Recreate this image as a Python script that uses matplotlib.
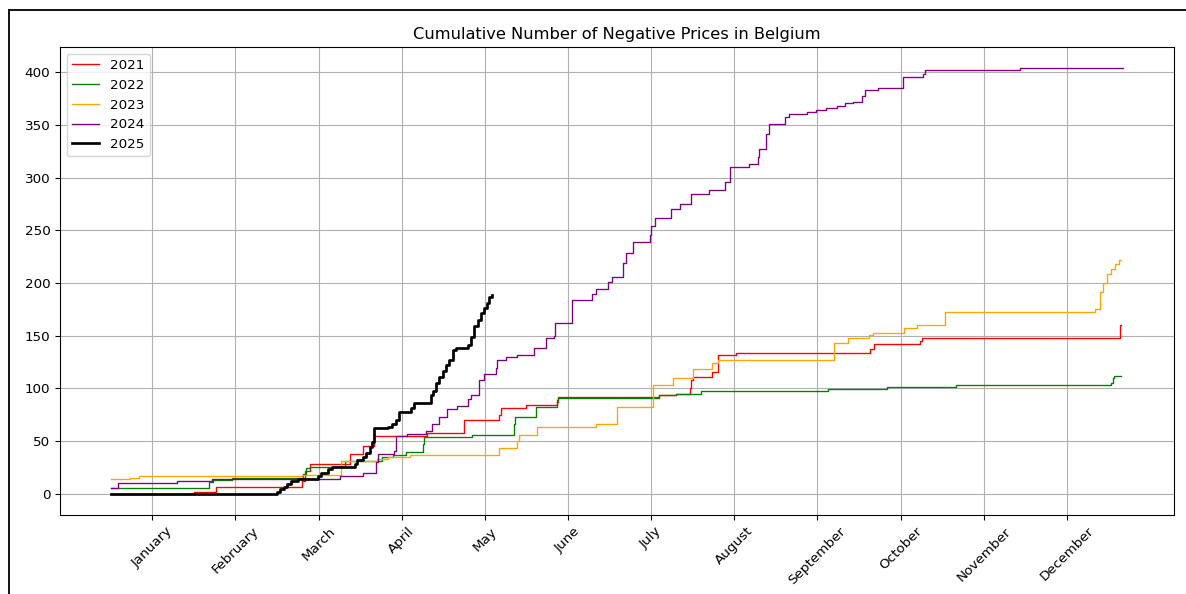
"""
Cumulative number of negative prices in Belgium, per year
"""

import numpy as np
import matplotlib
matplotlib.use('Agg')
import matplotlib.pyplot as plt
from matplotlib.lines import Line2D

# ================= data (day of year, cumulative count) =================
days_2021 = [0, 30, 38, 69, 70, 72, 86.3, 91, 95.2, 114, 127.5, 140, 141, 149.7,
             161, 161.5, 198, 204, 209, 209.5, 210, 217, 219, 225.6, 274,
             275.3, 292, 292.6, 364.2, 364.5]
vals_2021 = [0, 2, 6, 12, 22, 28, 38, 45, 55, 58, 70, 75, 81, 84,
             87, 92, 94, 95, 100, 108, 111, 116, 132, 134, 137,
             142, 145, 148, 160, 160]

days_2022 = [0, 35.4, 37, 43.8, 69.5, 70.5, 72, 84.5, 98, 102, 106.6, 112.6,
             113, 130.5, 145.5, 146, 153.3, 161, 161.5, 198, 204, 213, 259,
             280, 305, 361, 361.5, 362, 364.5]
vals_2022 = [5, 11, 13, 15, 19, 24, 25, 31, 35, 37, 40, 47,
             54, 56, 66, 73, 82, 89, 91, 93.6, 95, 97.5, 99,
             101.5, 103, 105, 110, 112, 112]

days_2023 = [0, 7, 10.3, 69, 83, 96, 100, 108, 140, 146.7, 147.5, 154, 175,
             182.6, 195.7, 203, 210, 217, 219, 261, 266, 273.5, 275, 286.4,
             291, 301, 355, 357, 358, 359.5, 361, 362.5, 364, 364.5]
vals_2023 = [14, 15, 17, 18, 31.5, 33, 35, 37, 43, 50, 56, 63, 66,
             82, 103, 110, 118, 124, 127, 143, 148, 151, 152.5, 157,
             160, 173, 175, 192, 200, 209, 213, 218, 222, 222]

days_2024 = [0, 2.5, 24, 36.6, 82.7, 91, 95.8, 96.5, 102.4, 103, 107, 113.8,
             116, 118.6, 121.5, 125, 129, 130, 133, 134.7, 139, 139.5, 142.5,
             146.7, 152.7, 157, 160, 160.4, 166.4, 173.6, 175, 179.6, 181, 185,
             186, 188.6, 194.5, 195, 196.5, 202.3, 205.3, 209.5, 216, 221.5,
             223.3, 230.4, 233.4, 234, 236.4, 237.6, 243.4, 244.8, 251.4,
             254.4, 258, 262, 265, 268, 271, 272, 277, 286, 293, 294, 328,
             365.4]
vals_2024 = [5, 10, 12, 14, 16.5, 20, 30, 38, 41, 55, 57, 60,
             66, 73, 80, 83, 90, 94, 108, 114, 119, 127, 130,
             132, 138, 148, 150, 162, 184, 190, 194, 201, 206, 219,
             229, 239, 246, 254, 262, 270, 275, 285, 288.6, 295.6,
             310, 313, 319.5, 327.5, 342, 351, 358, 361, 362.5,
             364, 366, 368, 371, 372, 378, 383, 385, 396, 399, 402, 404,
             404]

days_2025 = [0, 60, 61, 62.5, 63.5, 65, 67.7, 74.9, 76, 78.5, 80, 88, 89, 91,
             92, 93.5, 94.3, 95.2, 100, 101.5, 103, 104, 108.4, 109.6, 115.6,
             116.2, 117.4, 118.6, 119.8, 121, 122.2, 123.4, 124.6, 128.8, 130,
             131.2, 132.4, 133.6, 134.7, 135.9, 136.5, 137.7]
vals_2025 = [0, 2, 4.5, 6.7, 9, 12, 14, 17, 20, 23.5, 25, 28, 32, 35,
             39, 44, 49, 62, 63, 66.5, 70, 78, 81, 86, 93.6,
             98, 105, 111, 117, 122, 127, 136.5, 138, 141, 149,
             159, 165, 171.5, 176, 181, 187, 189]

years = ['2021', '2022', '2023', '2024', '2025']
colors = ['red', 'green', 'orange', 'purple', 'black']

month_names = ['January', 'February', 'March', 'April', 'May', 'June', 'July',
               'August', 'September', 'October', 'November', 'December']

# ================= style =================
plt.rcParams.update({
    'font.family': 'DejaVu Sans',
    'axes.titlesize': 11.7,
    'xtick.labelsize': 9.7,
    'ytick.labelsize': 9.7,
    'legend.fontsize': 9.7,
    'axes.linewidth': 0.78,
    'xtick.major.width': 0.78,
    'ytick.major.width': 0.78,
    'xtick.major.size': 3.4,
    'ytick.major.size': 3.4,
    'grid.linewidth': 0.78,
})


def main():
    series = [
        (days_2021, vals_2021),
        (days_2022, vals_2022),
        (days_2023, vals_2023),
        (days_2024, vals_2024),
        (days_2025, vals_2025),
    ]

    fig = plt.figure(figsize=(11.86, 5.94), dpi=100)
    ax = fig.add_axes([60 / 1186, 1 - 515 / 594, 1114 / 1186, 468 / 594])

    for (d, v), year, col in zip(series, years, colors):
        lw = 1.95 if year == '2025' else 0.97
        ax.plot(d, v, drawstyle='steps-post', color=col, linewidth=lw,
                label=year)

    ax.set_title('Cumulative Number of Negative Prices in Belgium')
    ax.set_xticks(np.arange(15, 365, 30))
    ax.set_xticklabels(month_names, rotation=45)
    ax.grid(True)
    ax.legend(loc='upper left')

    # frame of the screenshot (left and top edge)
    fig.add_artist(Line2D([8.5 / 1186, 8.5 / 1186], [0, 1 - 10 / 594],
                          transform=fig.transFigure, color='#111111', lw=1.4))
    fig.add_artist(Line2D([8.5 / 1186, 1], [1 - 10 / 594, 1 - 10 / 594],
                          transform=fig.transFigure, color='#111111', lw=1.4))

    fig.savefig('out.png', dpi=100, facecolor='white')
    plt.close(fig)


if __name__ == "__main__":
    main()
